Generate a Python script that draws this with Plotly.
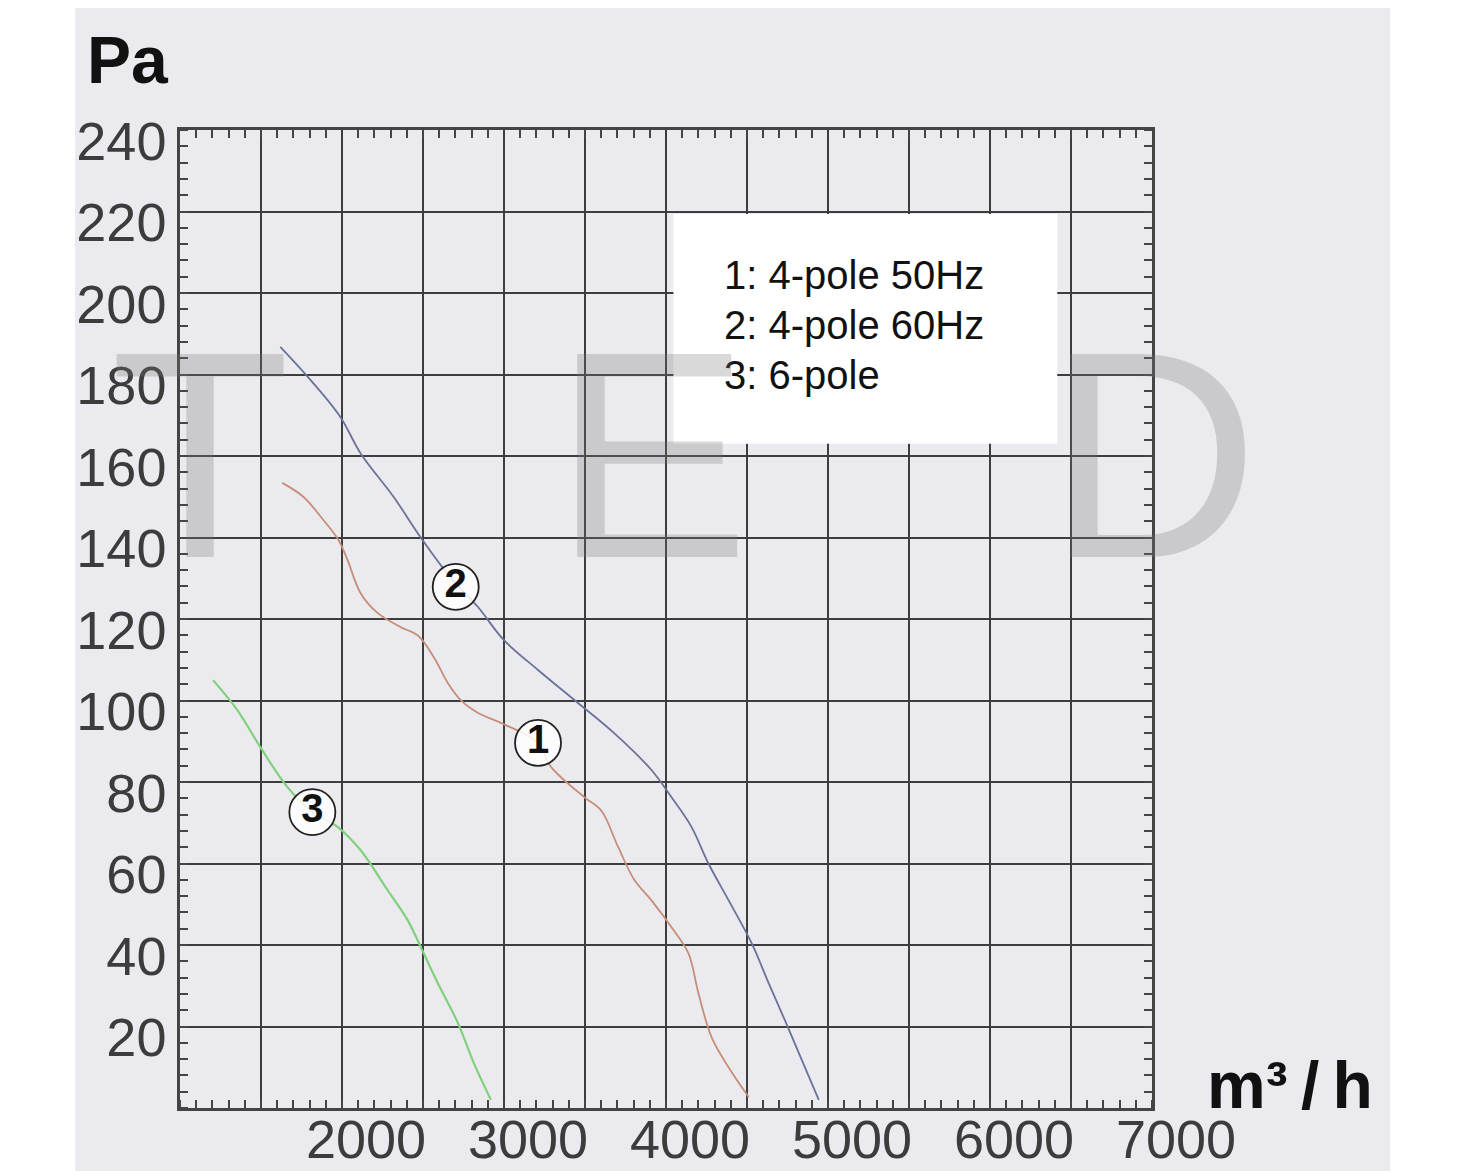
import plotly.graph_objects as go

# ---- data ----
flow_2 = [1619, 1805, 1990, 2114, 2318, 2486, 2653, 2838, 3000, 3210, 3457, 3680, 3909, 4033, 4157, 4262, 4386, 4528, 4633, 4733, 4838, 4943]
pa_2 = [186.8, 178.7, 169.6, 160.7, 150.0, 140.0, 131.0, 123.0, 114.8, 107.5, 99.4, 92.0, 83.0, 76.3, 69.0, 60.0, 51.0, 40.5, 30.7, 21.6, 11.8, 2.0]

flow_1 = [1631, 1761, 1885, 1978, 2034, 2114, 2219, 2362, 2467, 2566, 2653, 2733, 2838, 2981, 3210, 3290, 3495, 3600, 3705, 3804, 3909, 4033, 4138, 4200, 4281, 4386, 4510]
pa_1 = [153.4, 150.0, 144.3, 139.4, 134.5, 126.4, 121.5, 118.0, 116.0, 110.7, 104.3, 100.1, 97.0, 94.5, 89.6, 83.7, 76.3, 73.0, 64.0, 56.0, 51.0, 44.4, 38.0, 28.2, 17.4, 10.0, 2.7]

flow_3 = [1204, 1353, 1495, 1662, 1817, 1972, 2114, 2281, 2405, 2486, 2591, 2715, 2814, 2919]
pa_3 = [105.0, 97.7, 88.6, 78.8, 72.6, 69.0, 63.3, 53.5, 46.1, 39.5, 30.7, 20.9, 11.0, 2.0]

label_ids = ["1", "2", "3"]
label_flow = [3210, 2702, 1817]
label_pa = [89.6, 127.9, 72.6]

legend_lines = ["1: 4-pole 50Hz", "2: 4-pole 60Hz", "3: 6-pole"]
legend_pa = [204.4, 192.1, 179.9]

x_tickvals = [1000, 1500, 2000, 2500, 3000, 3500, 4000, 4500, 5000, 5500, 6000, 6500, 7000]
x_ticktext = ["", "", "2000", "", "3000", "", "4000", "", "5000", "", "6000", "", "7000"]
y_tickvals = [0, 20, 40, 60, 80, 100, 120, 140, 160, 180, 200, 220, 240]
y_ticktext = ["", "20", "40", "60", "80", "100", "120", "140", "160", "180", "200", "220", "240"]

watermark = ["T", "E", "D"]
watermark_px = [0.021, 0.485, 1.0]

FONT = "Liberation Sans, Arial, sans-serif"
GRID = "#3d3d3d"
TXT = "#3c3c3c"
AX = "#444444"

fig = go.Figure()

fig.add_trace(go.Scatter(x=flow_3, y=pa_3, mode="lines", line=dict(color="#80d07c", width=2.2, shape="spline"), showlegend=False, hoverinfo="skip"))
fig.add_trace(go.Scatter(x=flow_1, y=pa_1, mode="lines", line=dict(color="#c68e78", width=1.8, shape="spline"), showlegend=False, hoverinfo="skip"))
fig.add_trace(go.Scatter(x=flow_2, y=pa_2, mode="lines", line=dict(color="#6a7298", width=1.8, shape="spline"), showlegend=False, hoverinfo="skip"))

fig.add_trace(go.Scatter(
    x=label_flow, y=label_pa, mode="markers+text", text=label_ids,
    textposition="middle center",
    textfont=dict(family=FONT, size=40, color="#111111", weight="bold"),
    marker=dict(symbol="circle", size=46, color="rgba(255,255,255,0.85)", line=dict(color="#222222", width=1.8)),
    showlegend=False, hoverinfo="skip"))

# invisible trace anchoring the mirrored axes (top/right minor ticks)
fig.add_trace(go.Scatter(x=[None], y=[None], xaxis="x2", yaxis="y2", showlegend=False, hoverinfo="skip"))

# legend box
fig.add_shape(type="rect", xref="x", yref="y", x0=4046, x1=6415, y0=163, y1=219.4,
              fillcolor="#ffffff", line=dict(width=0), layer="between")

# gray scanned-paper band
fig.add_shape(type="rect", xref="paper", yref="paper", x0=-0.108, x1=1.245, y0=-0.08, y1=1.15,
              fillcolor="#ebebef", line=dict(width=0), layer="below")

for line, yv in zip(legend_lines, legend_pa):
    fig.add_annotation(x=4343, y=yv, xref="x", yref="y", text=line, showarrow=False,
                       xanchor="left", yanchor="middle", font=dict(family=FONT, size=40, color="#111111"))

for ch, xv in zip(watermark, watermark_px):
    fig.add_annotation(x=xv, y=0.668, xref="paper", yref="paper", text=ch, showarrow=False,
                       xanchor="center", yanchor="middle",
                       font=dict(family=FONT, size=295, color="rgba(120,120,120,0.28)"))

fig.add_annotation(xref="paper", yref="paper", x=-0.0977, y=1.0716, text="<b>Pa</b>", showarrow=False,
                   xanchor="left", yanchor="middle", font=dict(family=FONT, size=66, color="#111111"))
fig.add_annotation(xref="paper", yref="paper", x=1.0545, y=0.0235, text="<b>m³\u2009/\u2009h</b>", showarrow=False,
                   xanchor="left", yanchor="middle", font=dict(family=FONT, size=66, color="#111111"))

minor_x = dict(tickmode="linear", tick0=1000, dtick=100, ticks="inside", ticklen=8, tickwidth=2,
               tickcolor=AX, showgrid=False)
minor_y = dict(tickmode="linear", tick0=0, dtick=4, ticks="inside", ticklen=8, tickwidth=2,
               tickcolor=AX, showgrid=False)

fig.update_layout(
    width=1468, height=1171,
    # page body adds an 8px offset; margins compensate so the plot sits at 180..1152 x 130..1108
    margin=dict(l=172, r=324, t=122, b=71, autoexpand=False),
    paper_bgcolor="#ffffff",
    plot_bgcolor="#fafafc",
    showlegend=False,
    xaxis=dict(
        range=[1000, 7000], tickmode="array", tickvals=x_tickvals, ticktext=x_ticktext,
        ticks="", showgrid=True, gridcolor=GRID, gridwidth=2, automargin=False,
        showline=True, linecolor=AX, linewidth=2.5, mirror=True,
        zeroline=False, ticklabelshift=24, ticklabelstandoff=-18,
        tickfont=dict(family=FONT, size=54, color=TXT),
        minor=minor_x,
    ),
    yaxis=dict(
        range=[0, 240], tickmode="array", tickvals=y_tickvals, ticktext=y_ticktext,
        ticks="", showgrid=True, gridcolor=GRID, gridwidth=2, automargin=False,
        showline=True, linecolor=AX, linewidth=2.5, mirror=True,
        zeroline=False, ticklabelshift=11,
        tickfont=dict(family=FONT, size=54, color=TXT),
        minor=minor_y,
    ),
    xaxis2=dict(
        overlaying="x", side="top", range=[1000, 7000], showgrid=False, showticklabels=False,
        ticks="", zeroline=False, showline=False, automargin=False, minor=minor_x,
    ),
    yaxis2=dict(
        overlaying="y", side="right", range=[0, 240], showgrid=False, showticklabels=False,
        ticks="", zeroline=False, showline=False, automargin=False, minor=minor_y,
    ),
)

fig.write_html("out.html")
